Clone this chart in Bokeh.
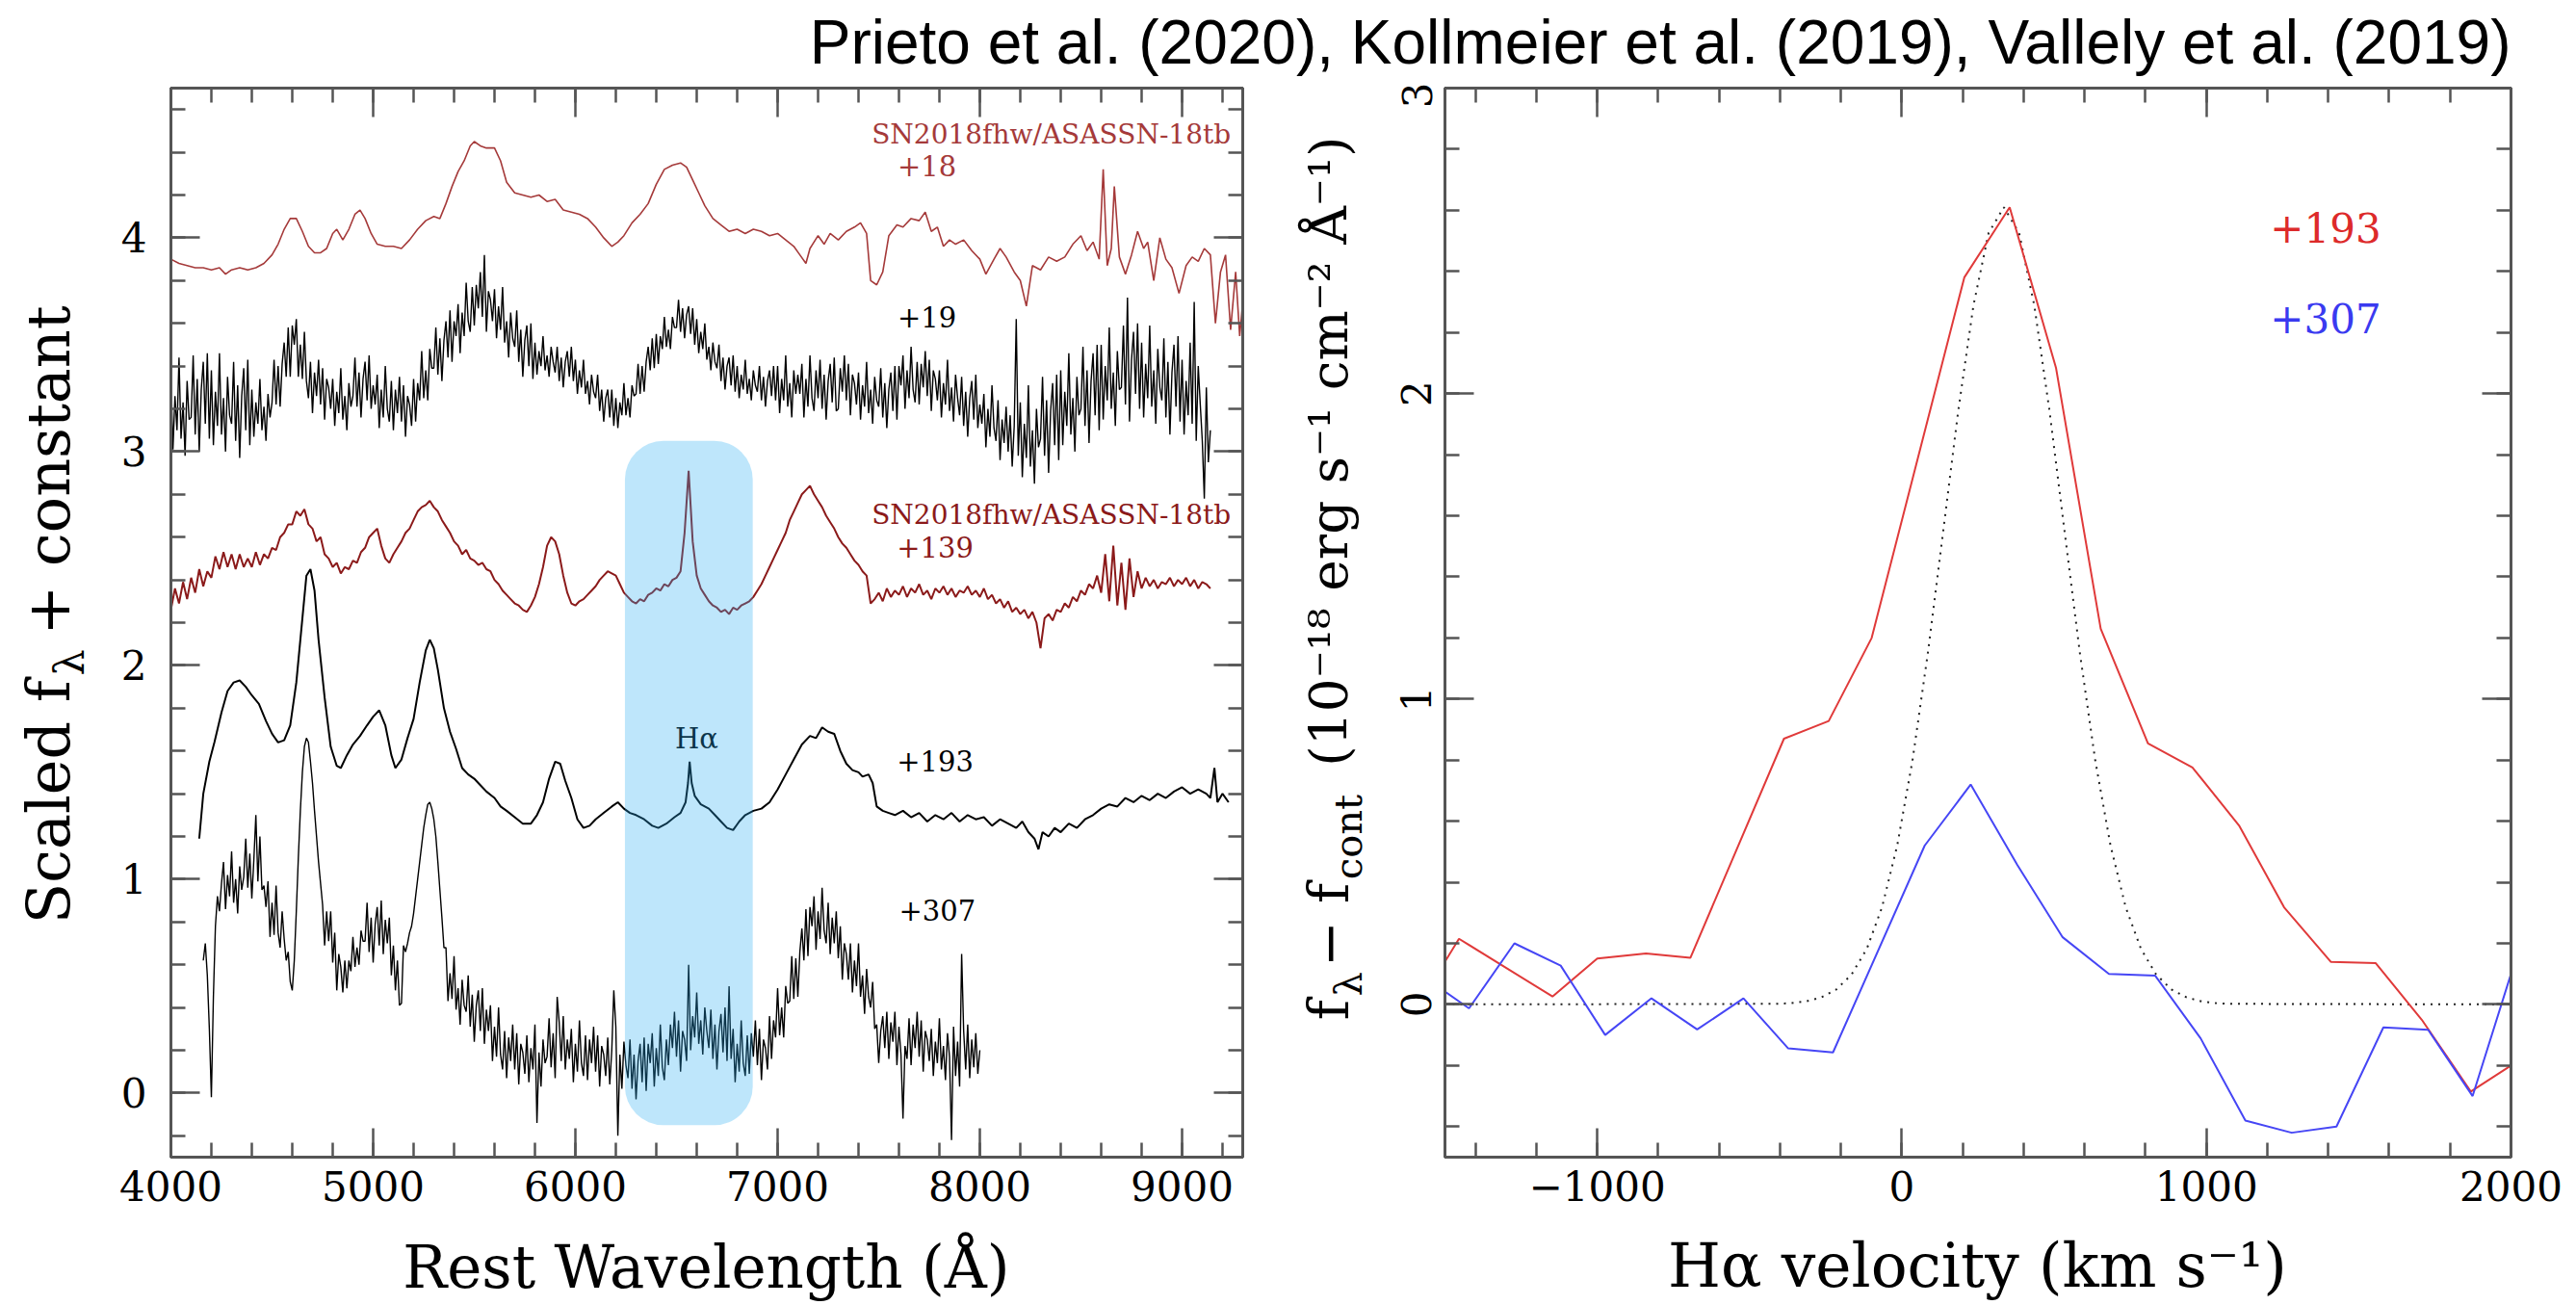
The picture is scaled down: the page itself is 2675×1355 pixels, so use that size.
import math
from bokeh.plotting import figure
from bokeh.models import (LinearAxis, FixedTicker, Label, BoxAnnotation,
                          Range1d, CustomJSTickFormatter)
from bokeh.layouts import column, row
from bokeh.embed import file_html
from bokeh.resources import INLINE

# ----------------------------------------------------------------- data
# left panel: scaled spectra (rest wavelength in Angstrom, scaled flux + constant)
spec_18 = [(4000, 3.90), (4040, 3.88), (4080, 3.87), (4120, 3.86), (4160, 3.86), (4200, 3.85),
           (4240, 3.86), (4270, 3.83), (4300, 3.85), (4340, 3.86), (4380, 3.85), (4420, 3.86),
           (4460, 3.88), (4500, 3.92), (4530, 3.97), (4560, 4.04), (4590, 4.09), (4620, 4.09),
           (4650, 4.03), (4680, 3.96), (4710, 3.93), (4740, 3.93), (4770, 3.95), (4800, 4.02),
           (4820, 4.04), (4850, 3.99), (4880, 4.04), (4910, 4.11), (4935, 4.13), (4960, 4.09),
           (4990, 4.02), (5020, 3.97), (5060, 3.96), (5100, 3.96), (5140, 3.95), (5180, 3.99),
           (5220, 4.04), (5260, 4.08), (5300, 4.10), (5330, 4.09), (5360, 4.16), (5390, 4.24),
           (5420, 4.31), (5450, 4.36), (5480, 4.43), (5500, 4.45), (5530, 4.43), (5560, 4.42),
           (5600, 4.42), (5630, 4.36), (5660, 4.26), (5700, 4.21), (5740, 4.20), (5780, 4.19),
           (5820, 4.20), (5860, 4.17), (5900, 4.18), (5940, 4.13), (5980, 4.12), (6020, 4.11),
           (6060, 4.09), (6100, 4.05), (6140, 4.00), (6180, 3.96), (6210, 3.98), (6240, 4.01),
           (6280, 4.07), (6320, 4.11), (6360, 4.16), (6400, 4.25), (6440, 4.32), (6480, 4.34),
           (6520, 4.35), (6550, 4.33), (6580, 4.27), (6610, 4.21), (6640, 4.15), (6680, 4.09),
           (6720, 4.06), (6760, 4.03), (6800, 4.04), (6840, 4.02), (6880, 4.04), (6920, 4.03),
           (6960, 4.01), (7000, 4.02), (7040, 3.99), (7080, 3.96), (7110, 3.92), (7140, 3.88),
           (7160, 3.95), (7200, 4.01), (7230, 3.97), (7260, 4.02), (7300, 3.99), (7340, 4.03),
           (7380, 4.05), (7410, 4.07), (7440, 4.02), (7460, 3.80), (7490, 3.78), (7520, 3.84),
           (7550, 4.01), (7590, 4.06), (7620, 4.05), (7660, 4.09), (7700, 4.08), (7730, 4.12),
           (7760, 4.03), (7790, 4.05), (7820, 3.96), (7850, 3.99), (7880, 3.97), (7920, 3.99),
           (7960, 3.94), (8000, 3.90), (8030, 3.83), (8070, 3.90), (8100, 3.95), (8130, 3.91),
           (8170, 3.84), (8200, 3.80), (8230, 3.68), (8260, 3.87), (8300, 3.85), (8340, 3.91),
           (8380, 3.89), (8420, 3.91), (8460, 3.97), (8500, 4.01), (8530, 3.94), (8560, 3.98),
           (8590, 3.90), (8610, 4.32), (8630, 3.87), (8650, 3.95), (8665, 4.24), (8690, 3.91),
           (8720, 3.83), (8750, 3.92), (8780, 4.03), (8810, 3.95), (8830, 3.98), (8860, 3.80),
           (8890, 4.00), (8920, 3.90), (8950, 3.86), (8985, 3.74), (9020, 3.87), (9050, 3.91),
           (9080, 3.89), (9110, 3.95), (9140, 3.92), (9165, 3.60), (9190, 3.84), (9215, 3.92),
           (9240, 3.57), (9265, 3.84), (9285, 3.54), (9300, 3.70)]

wl_19 = list(range(4000, 9141, 10))
fl_19 = [3.36, 3.01, 3.26, 3.10, 3.44, 3.06, 3.23, 2.98, 3.33, 3.15,
         3.16, 3.45, 3.08, 3.34, 3.00, 3.29, 3.42, 3.13, 3.46, 3.06,
         3.38, 3.03, 3.28, 3.12, 3.46, 3.08, 3.25, 3.00, 3.35, 3.17,
         3.13, 3.42, 3.05, 3.31, 2.97, 3.26, 3.39, 3.10, 3.43, 3.03,
         3.29, 3.07, 3.23, 3.13, 3.34, 3.10, 3.21, 3.05, 3.27, 3.16,
         3.23, 3.43, 3.22, 3.40, 3.21, 3.41, 3.51, 3.35, 3.58, 3.35,
         3.59, 3.50, 3.62, 3.35, 3.50, 3.34, 3.56, 3.33, 3.25, 3.42,
         3.18, 3.37, 3.26, 3.43, 3.22, 3.39, 3.15, 3.34, 3.30, 3.20,
         3.34, 3.12, 3.28, 3.18, 3.39, 3.15, 3.26, 3.10, 3.32, 3.21,
         3.26, 3.44, 3.21, 3.37, 3.16, 3.34, 3.42, 3.24, 3.45, 3.20,
         3.31, 3.22, 3.36, 3.11, 3.29, 3.16, 3.40, 3.20, 3.14, 3.33,
         3.10, 3.29, 3.18, 3.35, 3.14, 3.31, 3.07, 3.26, 3.22, 3.12,
         3.34, 3.14, 3.32, 3.24, 3.47, 3.25, 3.38, 3.24, 3.48, 3.39,
         3.39, 3.58, 3.36, 3.53, 3.33, 3.52, 3.61, 3.44, 3.66, 3.42,
         3.61, 3.54, 3.69, 3.46, 3.65, 3.54, 3.79, 3.61, 3.56, 3.77,
         3.59, 3.78, 3.67, 3.84, 3.63, 3.92, 3.56, 3.75, 3.71, 3.61,
         3.76, 3.53, 3.68, 3.57, 3.77, 3.51, 3.61, 3.44, 3.65, 3.53,
         3.49, 3.66, 3.42, 3.57, 3.35, 3.52, 3.59, 3.40, 3.60, 3.34,
         3.51, 3.36, 3.47, 3.40, 3.54, 3.38, 3.45, 3.35, 3.49, 3.42,
         3.37, 3.49, 3.33, 3.44, 3.30, 3.42, 3.47, 3.35, 3.49, 3.33,
         3.43, 3.27, 3.38, 3.30, 3.43, 3.27, 3.33, 3.22, 3.36, 3.28,
         3.25, 3.36, 3.19, 3.29, 3.14, 3.25, 3.29, 3.16, 3.29, 3.12,
         3.25, 3.11, 3.23, 3.17, 3.32, 3.17, 3.25, 3.16, 3.31, 3.26,
         3.27, 3.41, 3.27, 3.40, 3.28, 3.42, 3.49, 3.38, 3.53, 3.39,
         3.55, 3.41, 3.54, 3.48, 3.63, 3.49, 3.57, 3.48, 3.63, 3.58,
         3.58, 3.71, 3.56, 3.67, 3.53, 3.64, 3.68, 3.55, 3.67, 3.50,
         3.62, 3.46, 3.56, 3.48, 3.60, 3.43, 3.49, 3.38, 3.51, 3.42,
         3.39, 3.50, 3.33, 3.44, 3.29, 3.40, 3.44, 3.31, 3.45, 3.28,
         3.40, 3.25, 3.36, 3.29, 3.43, 3.27, 3.34, 3.24, 3.38, 3.31,
         3.28, 3.40, 3.24, 3.35, 3.21, 3.33, 3.38, 3.26, 3.40, 3.24,
         3.40, 3.18, 3.34, 3.24, 3.45, 3.21, 3.32, 3.16, 3.38, 3.27,
         3.36, 3.27, 3.41, 3.16, 3.34, 3.21, 3.45, 3.25, 3.19, 3.38,
         3.25, 3.43, 3.20, 3.36, 3.15, 3.33, 3.41, 3.23, 3.44, 3.19,
         3.20, 3.39, 3.28, 3.45, 3.24, 3.41, 3.17, 3.36, 3.32, 3.22,
         3.37, 3.15, 3.31, 3.21, 3.42, 3.18, 3.29, 3.13, 3.35, 3.24,
         3.21, 3.39, 3.16, 3.32, 3.11, 3.29, 3.37, 3.19, 3.40, 3.15,
         3.40, 3.31, 3.45, 3.20, 3.38, 3.25, 3.49, 3.29, 3.23, 3.42,
         3.22, 3.41, 3.30, 3.47, 3.26, 3.43, 3.19, 3.38, 3.34, 3.24,
         3.38, 3.16, 3.32, 3.22, 3.43, 3.19, 3.30, 3.14, 3.36, 3.25,
         3.17, 3.35, 3.12, 3.28, 3.07, 3.25, 3.33, 3.15, 3.36, 3.11,
         3.22, 3.13, 3.27, 3.02, 3.20, 3.07, 3.31, 3.11, 3.05, 3.24,
         2.96, 3.15, 3.04, 3.21, 3.00, 3.17, 2.93, 3.12, 3.62, 2.98,
         3.23, 2.88, 3.13, 2.97, 3.31, 2.93, 3.10, 2.85, 3.20, 3.02,
         3.06, 3.35, 2.98, 3.24, 2.90, 3.19, 3.32, 3.03, 3.36, 2.96,
         3.38, 3.03, 3.28, 3.12, 3.46, 3.08, 3.25, 3.00, 3.35, 3.17,
         3.20, 3.49, 3.12, 3.38, 3.04, 3.33, 3.46, 3.17, 3.50, 3.10,
         3.50, 3.15, 3.40, 3.24, 3.58, 3.20, 3.37, 3.12, 3.47, 3.29,
         3.30, 3.59, 3.22, 3.72, 3.14, 3.43, 3.56, 3.27, 3.60, 3.20,
         3.51, 3.16, 3.41, 3.25, 3.59, 3.21, 3.38, 3.13, 3.48, 3.30,
         3.24, 3.53, 3.16, 3.42, 3.08, 3.37, 3.50, 3.21, 3.54, 3.14,
         3.43, 3.08, 3.33, 3.17, 3.51, 3.13, 3.70, 3.05, 3.40, 3.22,
         3.05, 2.78, 3.30, 2.95, 3.10]

wl_139 = list(range(4000, 9141, 20))
fl_139 = [2.26, 2.36, 2.29, 2.39, 2.31, 2.41, 2.34, 2.45, 2.37, 2.44,
          2.41, 2.51, 2.45, 2.53, 2.46, 2.52, 2.45, 2.52, 2.46, 2.50,
          2.46, 2.53, 2.47, 2.52, 2.50, 2.55, 2.54, 2.60, 2.62, 2.66,
          2.66, 2.72, 2.70, 2.73, 2.66, 2.64, 2.58, 2.60, 2.52, 2.50,
          2.46, 2.48, 2.43, 2.46, 2.45, 2.49, 2.48, 2.53, 2.55, 2.60,
          2.62, 2.64, 2.56, 2.50, 2.48, 2.52, 2.55, 2.58, 2.62, 2.64,
          2.68, 2.72, 2.74, 2.75, 2.77, 2.74, 2.72, 2.68, 2.65, 2.62,
          2.58, 2.56, 2.52, 2.54, 2.50, 2.49, 2.47, 2.48, 2.45, 2.44,
          2.40, 2.38, 2.35, 2.33, 2.31, 2.29, 2.28, 2.26, 2.25, 2.28,
          2.32, 2.38, 2.46, 2.56, 2.60, 2.58, 2.52, 2.42, 2.34, 2.29,
          2.28, 2.30, 2.31, 2.33, 2.35, 2.37, 2.40, 2.42, 2.44, 2.43,
          2.42, 2.38, 2.34, 2.32, 2.30, 2.29, 2.31, 2.30, 2.33, 2.34,
          2.36, 2.35, 2.38, 2.37, 2.40, 2.41, 2.44, 2.62, 2.91, 2.58,
          2.42, 2.36, 2.33, 2.30, 2.28, 2.27, 2.25, 2.26, 2.24, 2.27,
          2.26, 2.28, 2.29, 2.30, 2.32, 2.35, 2.38, 2.42, 2.46, 2.50,
          2.54, 2.58, 2.62, 2.68, 2.72, 2.76, 2.80, 2.82, 2.84, 2.80,
          2.77, 2.74, 2.70, 2.67, 2.64, 2.60, 2.57, 2.55, 2.52, 2.49,
          2.47, 2.44, 2.42, 2.29, 2.31, 2.34, 2.30, 2.36, 2.32, 2.35,
          2.33, 2.37, 2.32, 2.36, 2.34, 2.38, 2.33, 2.35, 2.31, 2.36,
          2.34, 2.37, 2.33, 2.36, 2.32, 2.35, 2.34, 2.37, 2.33, 2.35,
          2.32, 2.36, 2.31, 2.33, 2.29, 2.31, 2.27, 2.30, 2.25, 2.27,
          2.24, 2.26, 2.22, 2.25, 2.20, 2.08, 2.22, 2.24, 2.21, 2.26,
          2.25, 2.29, 2.27, 2.32, 2.30, 2.35, 2.33, 2.38, 2.36, 2.42,
          2.34, 2.52, 2.30, 2.56, 2.28, 2.48, 2.26, 2.50, 2.32, 2.44,
          2.36, 2.41, 2.37, 2.40, 2.36, 2.39, 2.38, 2.41, 2.37, 2.40,
          2.38, 2.41, 2.37, 2.40, 2.36, 2.39, 2.38, 2.36]

spec_193 = [(4140, 1.19), (4160, 1.40), (4190, 1.55), (4215, 1.64), (4250, 1.78), (4280, 1.88),
            (4310, 1.92), (4340, 1.93), (4370, 1.90), (4400, 1.86), (4435, 1.82), (4470, 1.74),
            (4500, 1.68), (4530, 1.64), (4560, 1.65), (4590, 1.72), (4620, 1.92), (4650, 2.22),
            (4670, 2.42), (4690, 2.45), (4710, 2.35), (4730, 2.12), (4760, 1.85), (4790, 1.62),
            (4820, 1.53), (4840, 1.52), (4870, 1.58), (4900, 1.63), (4935, 1.67), (4970, 1.72),
            (5000, 1.76), (5030, 1.79), (5060, 1.72), (5090, 1.58), (5110, 1.52), (5140, 1.56),
            (5170, 1.66), (5200, 1.75), (5230, 1.92), (5260, 2.07), (5280, 2.12), (5300, 2.08),
            (5320, 1.98), (5350, 1.80), (5380, 1.69), (5410, 1.61), (5440, 1.52), (5470, 1.49),
            (5500, 1.47), (5530, 1.44), (5560, 1.41), (5600, 1.38), (5630, 1.34), (5660, 1.32),
            (5700, 1.29), (5740, 1.26), (5780, 1.26), (5810, 1.30), (5840, 1.36), (5870, 1.47),
            (5900, 1.55), (5925, 1.54), (5950, 1.46), (5980, 1.38), (6010, 1.28), (6040, 1.24),
            (6070, 1.25), (6100, 1.28), (6140, 1.31), (6180, 1.34), (6210, 1.36), (6240, 1.33),
            (6270, 1.31), (6300, 1.30), (6340, 1.28), (6380, 1.25), (6410, 1.24), (6450, 1.26),
            (6490, 1.29), (6520, 1.31), (6545, 1.36), (6557, 1.45), (6565, 1.55), (6575, 1.45),
            (6590, 1.39), (6620, 1.35), (6660, 1.33), (6690, 1.30), (6720, 1.27), (6750, 1.24),
            (6780, 1.23), (6810, 1.27), (6840, 1.30), (6880, 1.32), (6920, 1.33), (6960, 1.36),
            (7000, 1.42), (7040, 1.49), (7080, 1.56), (7120, 1.63), (7160, 1.67), (7190, 1.66),
            (7220, 1.71), (7250, 1.69), (7280, 1.68), (7310, 1.60), (7340, 1.54), (7370, 1.51),
            (7400, 1.50), (7420, 1.48), (7450, 1.49), (7470, 1.45), (7490, 1.34), (7520, 1.32),
            (7550, 1.31), (7580, 1.30), (7620, 1.32), (7660, 1.29), (7700, 1.31), (7740, 1.27),
            (7780, 1.30), (7820, 1.28), (7860, 1.31), (7900, 1.27), (7940, 1.30), (7980, 1.28),
            (8020, 1.29), (8060, 1.25), (8100, 1.28), (8140, 1.26), (8180, 1.24), (8210, 1.27),
            (8240, 1.22), (8270, 1.19), (8290, 1.14), (8310, 1.22), (8340, 1.20), (8370, 1.24),
            (8400, 1.22), (8440, 1.26), (8480, 1.24), (8520, 1.28), (8560, 1.30), (8600, 1.33),
            (8640, 1.35), (8680, 1.34), (8720, 1.38), (8760, 1.36), (8800, 1.39), (8840, 1.37),
            (8880, 1.40), (8920, 1.38), (8960, 1.41), (9000, 1.43), (9040, 1.40), (9080, 1.42),
            (9120, 1.40), (9140, 1.38), (9160, 1.52), (9175, 1.36), (9200, 1.40), (9230, 1.36)]

wl_307 = list(range(4160, 8001, 10))
fl_307 = [0.62, 0.70, 0.55, 0.30, -0.02, 0.45, 0.78, 0.92, 0.85, 0.98,
          1.08, 0.86, 1.02, 0.92, 1.13, 0.89, 1.00, 0.84, 1.06, 0.95,
          1.01, 1.19, 0.96, 1.12, 0.91, 1.09, 1.30, 0.99, 1.20, 0.95,
          0.97, 0.87, 0.99, 0.73, 0.89, 0.74, 0.97, 0.75, 0.68, 0.85,
          0.72, 0.62, 0.66, 0.52, 0.48, 0.62, 0.85, 1.10, 1.32, 1.50,
          1.62, 1.66, 1.64, 1.55, 1.45, 1.32, 1.20, 1.08, 0.98, 0.88,
          0.69, 0.85, 0.71, 0.85, 0.61, 0.75, 0.48, 0.65, 0.59, 0.47,
          0.62, 0.49, 0.62, 0.57, 0.73, 0.59, 0.68, 0.60, 0.76, 0.71,
          0.71, 0.89, 0.66, 0.82, 0.61, 0.79, 0.87, 0.69, 0.90, 0.65,
          0.81, 0.70, 0.82, 0.55, 0.69, 0.48, 0.62, 0.41, 0.42, 0.69,
          0.66, 0.70, 0.75, 0.78, 0.84, 0.92, 1.00, 1.08, 1.16, 1.24,
          1.30, 1.35, 1.36, 1.33, 1.28, 1.20, 1.08, 0.95, 0.82, 0.68,
          0.68, 0.43, 0.56, 0.44, 0.64, 0.39, 0.49, 0.32, 0.53, 0.41,
          0.38, 0.55, 0.31, 0.46, 0.24, 0.41, 0.48, 0.29, 0.49, 0.23,
          0.39, 0.29, 0.41, 0.15, 0.31, 0.17, 0.40, 0.18, 0.11, 0.29,
          0.07, 0.26, 0.15, 0.32, 0.11, 0.28, 0.04, 0.23, 0.19, 0.09,
          0.27, 0.05, 0.21, 0.11, 0.32, -0.14, 0.19, 0.03, 0.25, 0.14,
          0.17, 0.35, 0.12, 0.28, 0.07, 0.45, 0.33, 0.15, 0.36, 0.11,
          0.25, 0.16, 0.30, 0.05, 0.23, 0.10, 0.34, 0.14, 0.08, 0.27,
          0.06, 0.25, 0.14, 0.31, 0.10, 0.27, 0.03, 0.22, 0.18, 0.08,
          0.26, 0.04, 0.20, 0.48, 0.31, -0.20, 0.18, 0.02, 0.24, 0.13,
          0.07, 0.25, 0.02, 0.18, -0.03, 0.15, 0.23, 0.05, 0.26, 0.01,
          0.23, 0.14, 0.28, 0.03, 0.21, 0.08, 0.32, 0.12, 0.06, 0.25,
          0.13, 0.32, 0.21, 0.38, 0.17, 0.34, 0.10, 0.29, 0.25, 0.15,
          0.60, 0.20, 0.36, 0.26, 0.47, 0.23, 0.34, 0.18, 0.40, 0.29,
          0.21, 0.39, 0.16, 0.32, 0.11, 0.29, 0.37, 0.19, 0.40, 0.15,
          0.50, 0.16, 0.30, 0.05, 0.23, 0.10, 0.34, 0.14, 0.08, 0.27,
          0.09, 0.28, 0.17, 0.34, 0.13, 0.30, 0.06, 0.25, 0.21, 0.11,
          0.36, 0.16, 0.34, 0.26, 0.49, 0.27, 0.40, 0.26, 0.50, 0.42,
          0.43, 0.64, 0.44, 0.63, 0.45, 0.66, 0.77, 0.62, 0.86, 0.64,
          0.87, 0.78, 0.92, 0.67, 0.85, 0.72, 0.96, 0.76, 0.70, 0.89,
          0.65, 0.82, 0.70, 0.85, 0.63, 0.78, 0.53, 0.70, 0.65, 0.53,
          0.70, 0.47, 0.62, 0.50, 0.70, 0.45, 0.55, 0.37, 0.58, 0.45,
          0.40, 0.52, 0.30, 0.32, 0.14, 0.29, 0.36, 0.21, 0.38, 0.16,
          0.33, 0.24, 0.38, 0.13, 0.31, 0.18, -0.12, 0.22, 0.16, 0.35,
          0.13, 0.32, 0.21, 0.38, 0.17, 0.34, 0.10, 0.29, 0.25, 0.15,
          0.30, 0.08, 0.24, 0.14, 0.35, 0.11, 0.22, 0.06, 0.28, 0.17,
          -0.22, 0.31, 0.08, 0.24, 0.03, 0.65, 0.29, 0.11, 0.32, 0.07,
          0.25, 0.12, 0.28, 0.09, 0.20]

# right panel: continuum-subtracted H-alpha profiles (velocity in km/s)
vel_193 = [-1500, -1454, -1147, -1000, -840, -694, -387, -240, -99, 205, 354, 506, 653,
           808, 954, 1107, 1255, 1409, 1556, 1707, 1868, 2000]
flux_193 = [0.14, 0.215, 0.026, 0.15, 0.167, 0.153, 0.87, 0.928, 1.20, 2.38, 2.61, 2.085, 1.23,
            0.855, 0.776, 0.586, 0.318, 0.139, 0.135, -0.05, -0.285, -0.20]
vel_307 = [-1500, -1421, -1272, -1120, -974, -822, -672, -520, -373, -226, 75, 226, 379,
           528, 680, 832, 981, 1128, 1280, 1427, 1581, 1728, 1874, 2000]
flux_307 = [0.042, -0.013, 0.20, 0.127, -0.10, 0.02, -0.082, 0.02, -0.144, -0.157, 0.52, 0.72,
            0.457, 0.22, 0.10, 0.094, -0.111, -0.38, -0.42, -0.40, -0.075, -0.083, -0.30, 0.10]
vel_fit = [-1500, -415, -365, -315, -265, -215, -165, -115, -65, -15, 35, 85, 135, 185, 235,
           285, 335, 385, 435, 485, 535, 585, 635, 685, 735, 785, 835, 885, 935, 985, 1035,
           1085, 2000]
flux_fit = [0.0, 0.002, 0.004, 0.010, 0.023, 0.049, 0.098, 0.182, 0.318, 0.521, 0.799, 1.147,
            1.543, 1.942, 2.288, 2.526, 2.61, 2.526, 2.288, 1.942, 1.543, 1.147, 0.799, 0.521,
            0.318, 0.182, 0.098, 0.049, 0.023, 0.010, 0.004, 0.002, 0.0]

x_ticks_left = [4000, 5000, 6000, 7000, 8000, 9000]
y_ticks_left = [0, 1, 2, 3, 4]
x_ticks_right = [-1000, 0, 1000, 2000]
y_ticks_right = [0, 1, 2, 3]

title_text = "Prieto et al. (2020), Kollmeier et al. (2019), Vallely et al. (2019)"

# ----------------------------------------------------------------- layout
SERIF = "DejaVu Serif"
AX = "#555555"
BASE = 0.35                  # baseline correction (fraction of font size)
TOP = 85                     # title strip height
MID_B = 1275                 # bottom of the row holding the panels
X1, Y1 = (4000, 9300), (-0.3, 4.7)
X2, Y2 = (-1500, 2000), (-0.5, 3.0)
F1 = (177, 1290, 91, 1201)   # frame left, right, top, bottom (window px)
F2 = (1500, 2607, 91, 1201)
C1 = (110, 1190)             # canvas left, width
C2 = (1430, 1245)


def style_axis(ax, ticker, labels=True, orient="horizontal", standoff=14, overrides=None):
    ax.ticker = ticker
    ax.axis_line_color = AX
    ax.axis_line_width = 3
    ax.major_tick_in = 30
    ax.major_tick_out = 0
    ax.minor_tick_in = 15
    ax.minor_tick_out = 0
    ax.major_tick_line_color = AX
    ax.major_tick_line_width = 2.5
    ax.minor_tick_line_color = AX
    ax.minor_tick_line_width = 2.5
    if labels:
        ax.major_label_text_font = SERIF
        ax.major_label_text_font_size = "42px"
        ax.major_label_text_color = "black"
        ax.major_label_standoff = standoff
        ax.major_label_orientation = orient
        if overrides:
            ax.major_label_overrides = overrides
    else:
        ax.formatter = CustomJSTickFormatter(code="return ''")
        ax.major_label_text_font_size = "0px"
        ax.major_label_standoff = 0


def make_panel(xr, yr, fr, cv):
    l, r, t, b = fr
    cl, cw = cv
    p = figure(width=cw, height=MID_B - TOP, x_range=Range1d(*xr), y_range=Range1d(*yr),
               output_backend="svg", toolbar_location=None,
               min_border_left=l - cl, min_border_right=cl + cw - r,
               min_border_top=t - TOP, min_border_bottom=MID_B - b)
    p.grid.visible = False
    p.outline_line_color = AX
    p.outline_line_width = 3
    return p


def add_frame_axes(p, xt, yt, y_orient, xo=None, ystand=25):
    style_axis(p.xaxis[0], xt, standoff=14, overrides=xo)
    style_axis(p.yaxis[0], yt, orient=y_orient, standoff=ystand)
    top = LinearAxis()
    style_axis(top, xt, labels=False)
    p.add_layout(top, "above")
    right = LinearAxis()
    style_axis(right, yt, labels=False)
    p.add_layout(right, "right")


def text_fig(left, top, w, h):
    f = figure(width=w, height=h, x_range=Range1d(0, w), y_range=Range1d(0, h),
               output_backend="svg", toolbar_location=None, min_border=0,
               x_axis_type=None, y_axis_type=None)
    f.outline_line_color = None
    f._box = (left, top, h)
    return f


def put(f, px, py, text, size, angle=0.0, color="black", align="left", font=SERIF):
    """px, py: window position of the text baseline anchor."""
    left, top, h = f._box
    k = BASE * size
    if angle == 0:
        ax_, ay_ = px, py - k
    else:
        ax_, ay_ = px - k, py
    f.add_layout(Label(x=ax_ - left, y=(top + h) - ay_, text=text, text_font=font,
                       text_font_size=f"{size}px", text_color=color, angle=angle,
                       text_align=align, text_baseline="alphabetic"))


def lab(p, x, y, text, size, color, ppu):
    p.add_layout(Label(x=x, y=y + BASE * size / ppu, text=text, text_font=SERIF,
                       text_font_size=f"{size}px", text_color=color,
                       text_baseline="alphabetic"))


# ---------------- left panel
p1 = make_panel(X1, Y1, F1, C1)
tx1 = FixedTicker(ticks=x_ticks_left, minor_ticks=list(range(4000, 9301, 200)))
ty1 = FixedTicker(ticks=y_ticks_left, minor_ticks=[round(-0.2 + 0.2 * i, 1) for i in range(25)])
add_frame_axes(p1, tx1, ty1, "horizontal", ystand=25)

p1.line([a for a, _ in spec_18], [v for _, v in spec_18], line_color="#a53a3a", line_width=1.6)
p1.line(wl_19, fl_19, line_color="black", line_width=1.4)
p1.line(wl_139, fl_139, line_color="#8b1a1a", line_width=2)
p1.line([a for a, _ in spec_193], [v for _, v in spec_193], line_color="black", line_width=2)
p1.line(wl_307, fl_307, line_color="black", line_width=1.4)

PPU1 = (F1[3] - F1[2]) / (Y1[1] - Y1[0])
lab(p1, 6493, 1.61, "Hα", 29, "black", PPU1)
p1.add_layout(BoxAnnotation(left=6245, right=6877, bottom=-0.15, top=3.05,
                            fill_color="#29acf2", fill_alpha=0.3, line_color=None,
                            border_radius=40))
lab(p1, 7465, 4.44, "SN2018fhw/ASASSN-18tb", 28, "#a53a3a", PPU1)
lab(p1, 7593, 4.29, "+18", 29, "#a53a3a", PPU1)
lab(p1, 7593, 3.585, "+19", 29, "black", PPU1)
lab(p1, 7465, 2.66, "SN2018fhw/ASASSN-18tb", 28, "#8b1a1a", PPU1)
lab(p1, 7589, 2.51, "+139", 29, "#8b1a1a", PPU1)
lab(p1, 7589, 1.51, "+193", 29, "black", PPU1)
lab(p1, 7600, 0.81, "+307", 29, "black", PPU1)

# ---------------- right panel
p2 = make_panel(X2, Y2, F2, C2)
tx2 = FixedTicker(ticks=x_ticks_right, minor_ticks=list(range(-1400, 2001, 200)))
ty2 = FixedTicker(ticks=y_ticks_right, minor_ticks=[round(-0.4 + 0.2 * i, 1) for i in range(18)])
add_frame_axes(p2, tx2, ty2, "vertical",
               xo={-1000: "−1000", 0: "0", 1000: "1000", 2000: "2000"}, ystand=14)

p2.line(vel_fit, flux_fit, line_color="#222222", line_width=2, line_dash="2 6")
p2.line(vel_193, flux_193, line_color="#e03a3a", line_width=2)
p2.line(vel_307, flux_307, line_color="#4646f5", line_width=2)

PPU2 = (F2[3] - F2[2]) / (Y2[1] - Y2[0])
lab(p2, 1209, 2.495, "+193", 42, "#dd2a2a", PPU2)
lab(p2, 1209, 2.20, "+307", 42, "#3a3af0", PPU2)

# ---------------- axis titles (own canvases so nothing is clipped)
# rotated titles: a piece that precedes a subscript is right-aligned so that
# it ends exactly where the subscript begins
UP = math.pi / 2
ly1 = text_fig(0, TOP, C1[0], MID_B - TOP)
put(ly1, 72, 744, "Scaled f", 62, angle=UP, align="right")
put(ly1, 72 + 15, 739, "λ", 43, angle=UP, align="left")
put(ly1, 72, 694, "+ constant", 62, angle=UP, align="left")

ly2 = text_fig(1300, TOP, C2[0] - 1300, MID_B - TOP)
put(ly2, 1399, 1100, "f", 57, angle=UP, align="right")
put(ly2, 1399 + 14, 1096, "λ", 40, angle=UP, align="left")
put(ly2, 1399, 970, "− f", 57, angle=UP, align="right")
put(ly2, 1399 + 14, 966, "cont", 40, angle=UP, align="left")
put(ly2, 1399, 840, "(10⁻¹⁸ erg s⁻¹ cm⁻² Å⁻¹)", 55, angle=UP, align="left")

lx1 = text_fig(0, MID_B, 1300, 1355 - MID_B)
put(lx1, 733, 1336, "Rest Wavelength (Å)", 61, align="center")
lx2 = text_fig(1300, MID_B, 1375, 1355 - MID_B)
put(lx2, 2053, 1336, "Hα velocity (km s⁻¹)", 63, align="center")

# ---------------- title strip
pt = text_fig(0, 0, 2675, TOP)
put(pt, 2607, 66, title_text, 64, align="right", font="Liberation Sans")

layout = column(pt, row(ly1, p1, ly2, p2), row(lx1, lx2))
open("out.html", "w").write(file_html(layout, INLINE))
